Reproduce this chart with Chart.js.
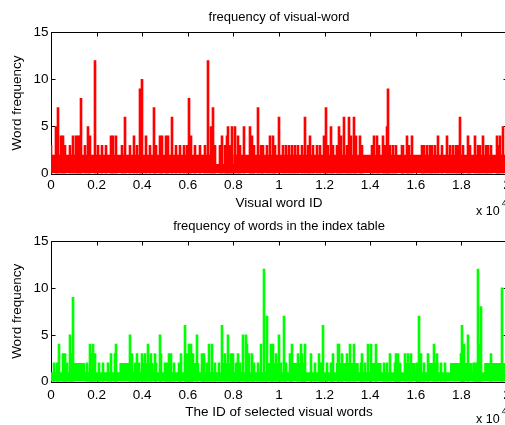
<!DOCTYPE html>
<html>
<head>
<meta charset="utf-8">
<script src="https://cdn.jsdelivr.net/npm/chart.js@4.4.1/dist/chart.umd.min.js"></script>
<style>
  html, body { margin: 0; padding: 0; background: #fff; overflow: hidden; }
  #wrap { position: relative; width: 505px; height: 425px; overflow: hidden; background: #fff; }
  #wrap canvas { position: absolute; left: 0; }
  #topChart { top: 0; }
  #bottomChart { top: 218px; }
</style>
</head>
<body>
<div id="wrap">
  <canvas id="topChart" width="520" height="218"></canvas>
  <canvas id="bottomChart" width="520" height="207"></canvas>
</div>
<script>
// --- axis ticks (x in visual word IDs, labelled in units of 10^4) ---
const xTickValues = [0, 2000, 4000, 6000, 8000, 10000, 12000, 14000, 16000, 18000, 20000];
const xTickLabels = ['0', '0.2', '0.4', '0.6', '0.8', '1', '1.2', '1.4', '1.6', '1.8', '2'];
const yTickValues = [0, 5, 10, 15];

// start of each 500-ID block, used for the dense low part of the histograms
const blockStarts = [0, 500, 1000, 1500, 2000, 2500, 3000, 3500, 4000, 4500,
  5000, 5500, 6000, 6500, 7000, 7500, 8000, 8500, 9000, 9500,
  10000, 10500, 11000, 11500, 12000, 12500, 13000, 13500, 14000, 14500,
  15000, 15500, 16000, 16500, 17000, 17500, 18000, 18500, 19000, 19500, 20000];

// --- top plot: frequency of visual-word ---
const redBase = [2, 2, 2, 2, 2, 2, 2, 2, 2, 2,
  2, 2, 2, 2, 1, 1, 2, 2, 2, 2,
  2, 2, 2, 2, 2, 2, 2, 2, 2, 2,
  2, 2, 2, 2, 2, 2, 2, 2, 2, 2, 2];
const redIds = [
  20, 237, 307, 456, 527, 632, 821, 966, 1115, 1185, 1260, 1335, 1510, 1624, 1700, 1940,
  2063, 2240, 2432, 2650, 2722, 2870, 3117, 3266, 3455, 3630, 3793, 3925, 3995,
  4188, 4333, 4509, 4627, 4772, 4873, 5022, 5136, 5299, 5461, 5650, 5839, 5945,
  6040, 6133, 6308, 6528, 6748, 6866, 7011, 7113, 7186, 7406, 7508, 7625, 7699,
  7771, 7845, 7946, 8080, 8183, 8284, 8473, 8723, 8797, 8911, 9061, 9206, 9307,
  9456, 9601, 9718, 9820, 9996, 10186, 10290, 10435, 10553, 10698, 10844, 10992,
  11137, 11256, 11344, 11502, 11651, 11796, 11972, 12059, 12160, 12265, 12380, 12529,
  12630, 12705, 12850, 12968, 13075, 13157, 13302, 13377, 13552, 13653, 14092, 14180,
  14312, 14400, 14549, 14650, 14724, 14768, 14869, 15014, 15119, 15383, 15453, 15602,
  15703, 15848, 16261, 16375, 16481, 16625, 16726, 16845, 16989, 17138, 17358, 17503,
  17648, 17753, 17867, 17955, 18086, 18280, 18381, 18600, 18719, 18820, 18965, 19071,
  19185, 19290, 19553, 19624, 19712, 19844];
const redFreq = [
  3, 5, 7, 4, 4, 3, 3, 4, 4, 4, 4, 8, 3, 5, 4, 12,
  3, 3, 3, 4, 4, 4, 3, 6, 3, 4, 3, 9, 10,
  4, 3, 7, 3, 4, 4, 4, 4, 6, 3, 3, 3, 3,
  8, 4, 3, 3, 3, 12, 5, 7, 3, 3, 4, 3, 4,
  5, 3, 5, 5, 4, 3, 5, 5, 4, 3, 7, 3, 3,
  3, 4, 4, 3, 6, 3, 3, 3, 3, 3, 3, 3,
  6, 3, 4, 3, 3, 3, 4, 7, 3, 5, 3, 3,
  5, 4, 6, 3, 6, 4, 6, 4, 4, 3, 3, 4,
  4, 3, 4, 3, 5, 9, 3, 3, 3, 3, 3, 4,
  3, 4, 3, 3, 3, 3, 3, 3, 4, 3, 4, 3,
  3, 3, 3, 6, 3, 4, 3, 4, 3, 3, 4, 3,
  3, 3, 4, 3, 4, 5];

// --- bottom plot: frequency of words in the index table ---
const greenBase = [1, 1, 2, 1, 1, 1, 2, 1, 2, 1,
  1, 1, 2, 1, 1, 2, 1, 1, 1, 2,
  1, 2, 1, 1, 1, 2, 2, 1, 2, 1,
  1, 2, 1, 2, 1, 2, 2, 1, 2, 2, 2];
const greenIds = [
  150, 250, 338, 527, 632, 700, 821, 894, 967, 1600, 1700, 1773, 1846, 1919, 2100, 2300,
  2500, 2650, 2796, 2870, 3455, 3557, 3700, 3750, 3850, 4010, 4110, 4260, 4377, 4552,
  4600, 4772, 4846, 5000, 5100, 5168, 5285, 5400, 5600, 5723, 5870, 5945, 6047, 6162,
  6235, 6382, 6601, 6700, 6718, 6850, 6923, 7040, 7200, 7350, 7508, 7625, 7771, 7880,
  7990, 8100, 8210, 8300, 8430, 8533, 8577, 8680, 8796, 8900, 9100, 9206, 9345, 9483,
  9645, 9747, 9850, 9996, 10100, 10230, 10300, 10480, 10582, 10816, 10961, 11020, 11100,
  11137, 11400, 11600, 11752, 11850, 11942, 12100, 12300, 12352, 12571, 12630, 12748,
  12967, 13114, 13303, 13600, 13654, 13750, 13888, 14035, 14240, 14600, 14750, 14869,
  15100, 15118, 15234, 15300, 15528, 15644, 15790, 16050, 16141, 16231, 16350, 16551,
  16815, 16918, 17100, 17300, 17985, 18045, 18100, 18280, 18550, 18650, 18747, 18790,
  18866, 19290, 19790];
const greenFreq = [
  2, 2, 4, 3, 3, 2, 5, 3, 9, 2, 4, 3, 4, 3, 2, 2,
  2, 3, 3, 4, 5, 3, 2, 3, 2, 3, 3, 4, 3, 3,
  2, 5, 3, 2, 2, 3, 3, 2, 2, 3, 6, 3, 4, 4,
  3, 5, 3, 2, 3, 2, 4, 4, 2, 2, 6, 3, 5, 3,
  3, 2, 3, 2, 5, 5, 4, 3, 3, 2, 2, 4, 12, 7,
  4, 4, 3, 5, 2, 7, 2, 3, 4, 3, 4, 3, 2,
  4, 3, 2, 3, 2, 6, 2, 2, 3, 4, 4, 3,
  3, 4, 4, 2, 3, 2, 4, 4, 4, 2, 2, 3,
  2, 3, 3, 2, 3, 3, 3, 2, 7, 3, 2, 3,
  4, 3, 2, 2, 3, 6, 4, 5, 2, 2, 12, 4,
  8, 3, 10];

const FONT = 'Liberation Sans, Arial, Helvetica, sans-serif';

// snap the thin spike bars onto whole pixels so they stay crisp like the original
const snapPlugin = {
  id: 'snapBars',
  afterDatasetsUpdate(chart) {
    chart.getSortedVisibleDatasetMetas().forEach(meta => {
      if (meta.type !== 'bar') return;
      meta.data.forEach(bar => { bar.x = Math.round(bar.x); });
    });
  }
};

// box, inward ticks and the "x 10^4" exponent, drawn the way MATLAB does
const framePlugin = {
  id: 'matlabFrame',
  beforeDatasetsDraw(chart) {
    const { ctx, chartArea: a, scales: { x, y } } = chart;
    const L = Math.round(a.left) + 0.5, R = Math.round(a.right) + 0.5;
    const T = Math.round(a.top) + 0.5, B = Math.round(a.bottom) + 0.5;
    const tl = 4;
    ctx.save();
    ctx.strokeStyle = '#000';
    ctx.lineWidth = 1;
    ctx.beginPath();
    ctx.rect(L, T, R - L, B - T);
    xTickValues.forEach(v => {
      const px = Math.round(x.getPixelForValue(v)) + 0.5;
      ctx.moveTo(px, T); ctx.lineTo(px, T + tl);
      ctx.moveTo(px, B); ctx.lineTo(px, B - tl);
    });
    yTickValues.forEach(v => {
      const py = Math.round(y.getPixelForValue(v)) + 0.5;
      ctx.moveTo(L, py); ctx.lineTo(L + tl, py);
      ctx.moveTo(R, py); ctx.lineTo(R - tl, py);
    });
    ctx.stroke();
    ctx.restore();
  },
  afterDraw(chart) {
    const { ctx, chartArea: a } = chart;
    ctx.save();
    ctx.fillStyle = '#000';
    ctx.textBaseline = 'middle';
    ctx.textAlign = 'left';
    ctx.font = '12.5px ' + FONT;
    ctx.fillText('x 10', a.right - 31, a.bottom + 37.7);
    ctx.font = '9px ' + FONT;
    ctx.fillText('4', a.right - 5.3, a.bottom + 30);
    ctx.restore();
  }
};

function makeChart(canvasId, cfg) {
  const base = blockStarts.map((id, i) => ({ x: id, y: cfg.base[i] }));
  const spikes = cfg.ids.map((id, i) => ({ x: id, y: cfg.freq[i] }));
  return new Chart(document.getElementById(canvasId), {
    type: 'bar',
    data: {
      datasets: [
        {
          type: 'line', data: base, stepped: 'before', fill: 'origin',
          backgroundColor: cfg.color, borderWidth: 0, pointRadius: 0, order: 2
        },
        {
          type: 'bar', data: spikes, backgroundColor: cfg.color, borderWidth: 0,
          barThickness: 2, grouped: false, order: 1
        }
      ]
    },
    options: {
      responsive: false,
      animation: false,
      events: [],
      layout: { padding: { left: 0, right: 13, top: 0, bottom: 0 } },
      plugins: {
        legend: { display: false },
        tooltip: { enabled: false },
        title: {
          display: true, text: cfg.title, color: '#000', fullSize: false,
          font: { family: FONT, size: 13, weight: 'normal', lineHeight: 1.2 },
          padding: cfg.titlePad
        }
      },
      scales: {
        x: {
          type: 'linear', min: 0, max: 20000, offset: false,
          grid: { display: false, drawTicks: false },
          border: { display: false },
          afterBuildTicks: s => { s.ticks = xTickValues.map(v => ({ value: v })); },
          afterFit: s => { s.height = cfg.xHeight; },
          ticks: {
            autoSkip: false, maxRotation: 0, color: '#000', padding: cfg.xTickPad,
            font: { family: FONT, size: 13.5 },
            callback: (v, i) => xTickLabels[i]
          },
          title: {
            display: true, text: cfg.xTitle, color: '#000',
            font: { family: FONT, size: 13.5 }, padding: { top: 0, bottom: cfg.xTitlePad }
          }
        },
        y: {
          min: 0, max: 15,
          grid: { display: false, drawTicks: false },
          border: { display: false },
          afterBuildTicks: s => { s.ticks = yTickValues.map(v => ({ value: v })); },
          afterFit: s => { s.width = 51; },
          ticks: { color: '#000', padding: 2.5, font: { family: FONT, size: 13.5 } },
          title: {
            display: true, text: 'Word frequency', color: '#000',
            font: { family: FONT, size: 13.5 }, padding: { top: 9.4, bottom: 0 }
          }
        }
      }
    },
    plugins: [snapPlugin, framePlugin]
  });
}

makeChart('topChart', {
  base: redBase, ids: redIds, freq: redFreq, color: '#ff0000',
  title: 'frequency of visual-word', titlePad: { top: 9.2, bottom: 7.6 },
  xTitle: 'Visual word ID', xHeight: 44.5, xTickPad: 3.4, xTitlePad: 6.6
});

makeChart('bottomChart', {
  base: greenBase, ids: greenIds, freq: greenFreq, color: '#00ff00',
  title: 'frequency of words in the index table', titlePad: { top: 0.9, bottom: 6.5 },
  xTitle: 'The ID of selected visual words', xHeight: 43.3, xTickPad: 5.2, xTitlePad: 4.6
});
</script>
</body>
</html>
